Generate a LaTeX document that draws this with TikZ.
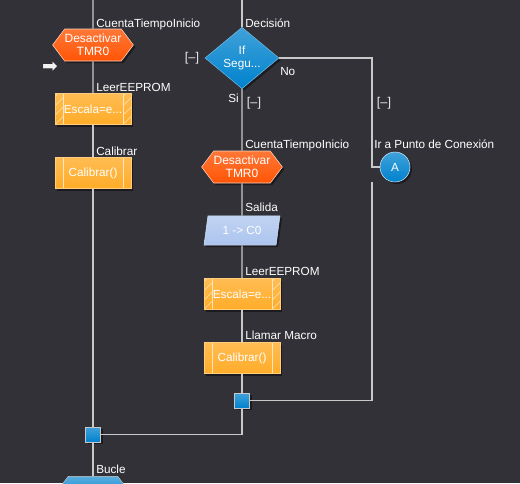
\documentclass[tikz,border=0pt]{standalone}
\usepackage{fontspec}
\setmainfont{Liberation Sans}
\newfontfamily\symfont{DejaVu Sans}
\usepackage{tikz}
\usetikzlibrary{positioning,shapes.geometric,shapes.symbols,shadows}
\definecolor{bgdark}{RGB}{50,49,55}
\definecolor{wire}{RGB}{200,200,200}
\definecolor{hexor}{RGB}{255,85,5}
\definecolor{boxor}{RGB}{255,172,40}
\definecolor{decblue}{RGB}{0,130,205}
\definecolor{outblue}{RGB}{172,196,238}

\begin{document}
\begin{tikzpicture}[x=0.75pt,y=-0.75pt,font=\fontsize{8.8}{10.5}\selectfont,
 lb/.style={anchor=base west,inner sep=0pt,text=white},
 br/.style={inner sep=0pt,text=white!82!gray,font=\fontsize{9.5}{10}\selectfont},
 ln/.style={draw=wire,line width=0.9pt},
 shd/.style={drop shadow={shadow xshift=1.5pt,shadow yshift=-1.5pt,fill=black,opacity=0.45}},
 hx/.style={signal,signal to=west and east,signal pointer angle=106,minimum width=56pt,minimum height=24pt,inner sep=0pt,
  draw=white!75!hexor,thin,top color=hexor!80!white,bottom color=hexor,text=white,align=center,shd,font=\fontsize{9}{10}\selectfont},
 pr/.style={rectangle,minimum width=57pt,minimum height=23.25pt,inner sep=0pt,draw=boxor!60!white,thin,
  top color=boxor!80!white,bottom color=boxor,text=white,shd},
 esc/.style={pr,path picture={
  \begin{scope}
  \clip (path picture bounding box.south west) rectangle ([xshift=6pt]path picture bounding box.north west);
  \foreach \k in {-3,...,3}\draw[white!70!boxor,thin]([yshift=\k*7pt]path picture bounding box.south west)--++(10pt,10pt);
  \end{scope}
  \begin{scope}
  \clip (path picture bounding box.south east) rectangle ([xshift=-6pt]path picture bounding box.north east);
  \foreach \k in {-3,...,3}\draw[white!70!boxor,thin]([xshift=-6pt,yshift=\k*7pt]path picture bounding box.south east)--++(10pt,10pt);
  \end{scope}
  \draw[white!70!boxor,thin]([xshift=6pt]path picture bounding box.south west)--([xshift=6pt]path picture bounding box.north west);
  \draw[white!70!boxor,thin]([xshift=-6pt]path picture bounding box.south east)--([xshift=-6pt]path picture bounding box.north east);}},
 cal/.style={pr,path picture={
  \draw[white!70!boxor,thin]([xshift=6pt]path picture bounding box.south west)--([xshift=6pt]path picture bounding box.north west);
  \draw[white!70!boxor,thin]([xshift=-6pt]path picture bounding box.south east)--([xshift=-6pt]path picture bounding box.north east);}},
 sq/.style={rectangle,minimum size=11.25pt,inner sep=0pt,draw=wire,thin,top color=decblue!75!white,bottom color=decblue,shd}]
 \useasboundingbox (0,0) rectangle (520,483);
 \fill[bgdark] (0,0) rectangle (520,483);
 \clip (0,0) rectangle (520,483);
 % left column
 \coordinate (topL) at (93,0);
 \node[hx](hexL) at (93,45){Desactivar\\TMR0};
 \node[esc](escL) at (93,109){Escala=e...};
 \node[cal](calL) at (93,173){Calibrar()};
 \node[sq](sqL) at (93,434.5){};
 \node[trapezium,trapezium stretches=true,trapezium left angle=70,trapezium right angle=70,minimum width=64pt,minimum height=18pt,inner sep=3pt,
  draw=wire,thin,top color=decblue!65!white,bottom color=decblue,anchor=north](bucle) at (93,476){};
 \node[text=white!90!gray,inner sep=0pt,font=\symfont\fontsize{14}{14}\selectfont](mark) at (50,67){➡};
 % right column
 \coordinate (topR) at (242,0);
 \node[diamond,minimum width=55.5pt,minimum height=45pt,inner sep=0pt,draw=decblue!55!white,thin,
  top color=decblue!75!white,bottom color=decblue,text=white,align=center,shd,font=\fontsize{8.8}{10}\selectfont](dec) at (242,58){If\\Segu...};
 \node[hx](hexR) at (242,167){Desactivar\\TMR0};
 \node[trapezium,trapezium stretches=true,trapezium left angle=75,trapezium right angle=105,minimum width=57pt,minimum height=22pt,inner sep=0pt,
  draw=outblue!60!white,thin,top color=outblue!75!white,bottom color=outblue,text=white,shd](outR) at (242,230.5){1 -> C0};
 \node[esc](escR) at (242,294){Escala=e...};
 \node[cal](calR) at (242,358){Calibrar()};
 \node[sq](sqR) at (242,400.5){};
 \node[circle,minimum size=22.5pt,inner sep=0pt,draw=white!80!decblue,thin,
  top color=decblue!75!white,bottom color=decblue,text=white,shd](conA) at (395,167){A};
 \coordinate (noRet) at (372,182);
 % connectors
 \draw[ln](topL)--(hexL);
 \draw[ln](hexL)--(escL);
 \draw[ln](escL)--(calL);
 \draw[ln](calL)--(sqL);
 \draw[ln](sqL)--(bucle);
 \draw[ln](topR)--(dec);
 \draw[ln](dec)--(hexR);
 \draw[ln](hexR)--(outR);
 \draw[ln](outR)--(escR);
 \draw[ln](escR)--(calR);
 \draw[ln](calR)--(sqR);
 \draw[ln](sqR.south)|-(sqL.east);
 \draw[ln](dec.east)--(dec.east -| noRet)|-(conA.west);
 \draw[ln](noRet)|-(sqR.east);
 % labels
 \node[lb](l1) at (96,27){CuentaTiempoInicio};
 \node[lb](l2) at (96,91){LeerEEPROM};
 \node[lb](l3) at (96,155){Calibrar};
 \node[lb](l4) at (96,473){Bucle};
 \node[lb](r1) at (245,27){Decisión};
 \node[lb](r2) at (280,75){No};
 \node[lb](r3) at (228,102){Si};
 \node[lb](r4) at (245,148){CuentaTiempoInicio};
 \node[lb](r5) at (374,148){Ir a Punto de Conexión};
 \node[lb](r6) at (245,211){Salida};
 \node[lb](r7) at (245,275){LeerEEPROM};
 \node[lb](r8) at (245,339){Llamar Macro};
 \node[br](b1) at (192,58){[--]};
 \node[br](b2) at (254,103){[--]};
 \node[br](b3) at (384,103){[--]};
\end{tikzpicture}
\end{document}
